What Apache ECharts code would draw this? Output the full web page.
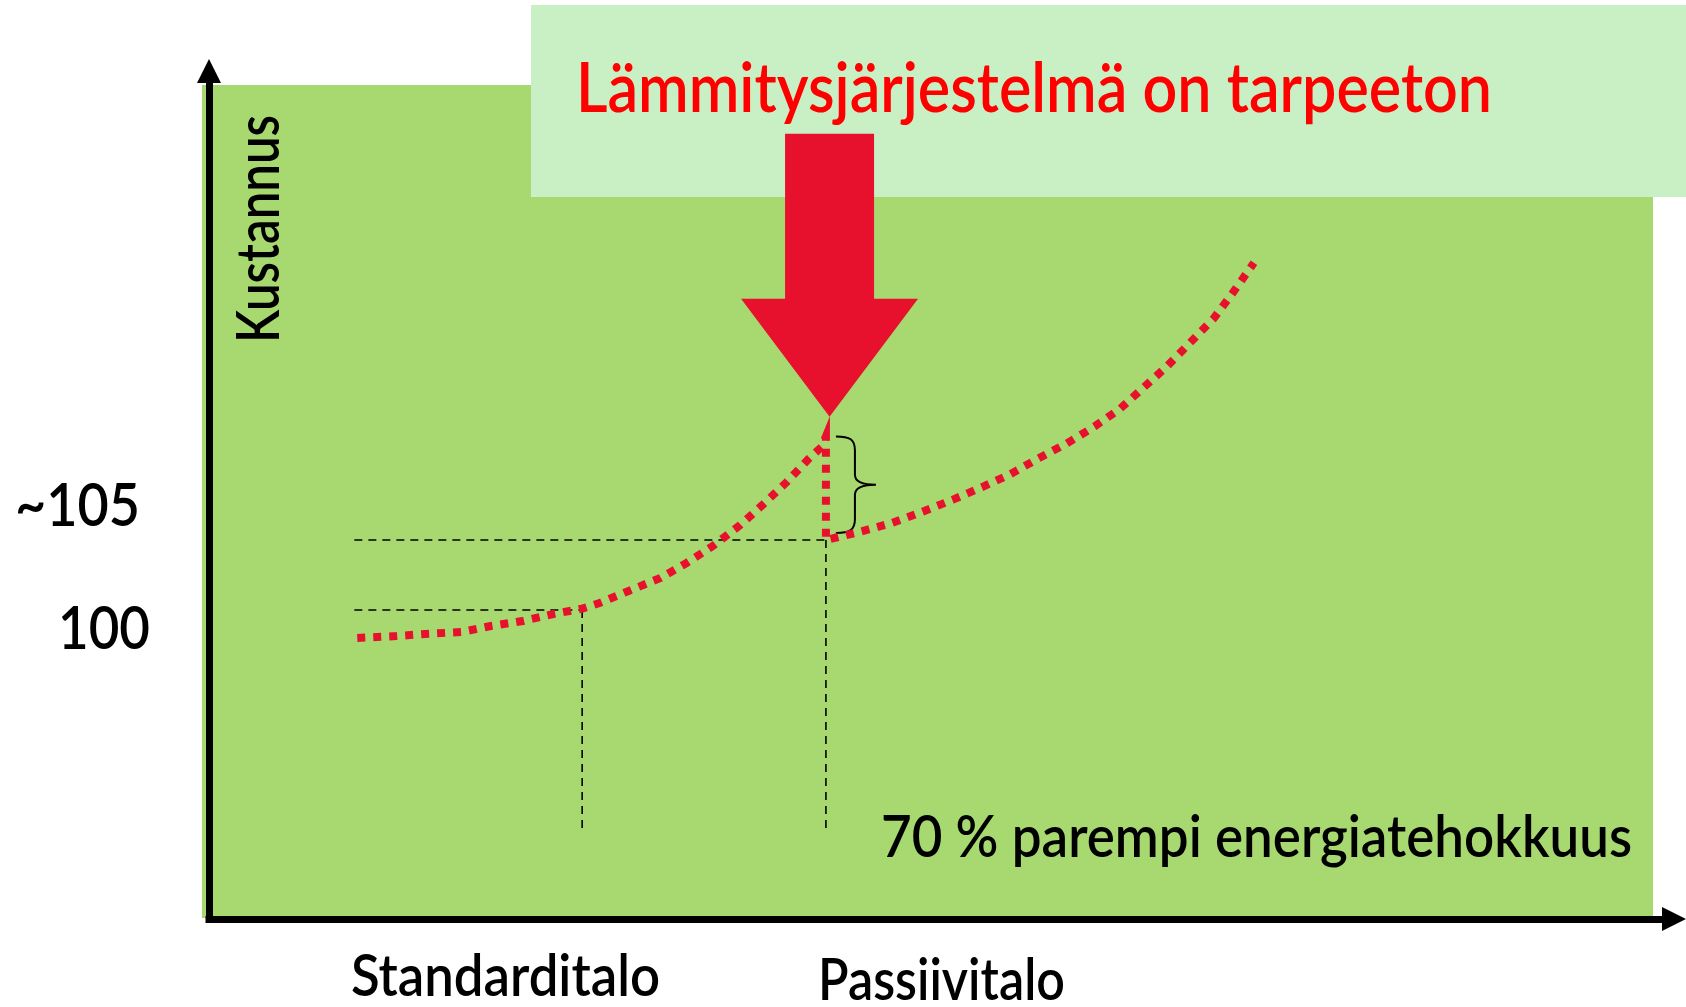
<!DOCTYPE html>
<html>
<head>
<meta charset="utf-8">
<script src="https://cdn.jsdelivr.net/npm/echarts@6/dist/echarts.min.js"></script>
<style>
html,body{margin:0;padding:0;background:#ffffff;}
#chart{width:1686px;height:1007px;}
</style>
</head>
<body>
<div id="chart"></div>
<script>
// ---- texts ----
const titleText = 'Lämmitysjärjestelmä on tarpeeton';
const yAxisName = 'Kustannus';
const costTickLabels = ['~105', '100'];
const houseLabels = ['Standarditalo', 'Passiivitalo'];
const efficiencyNote = '70 % parempi energiatehokkuus';

// ---- data: [position along efficiency axis (0-100), cost index] ----
const costCurveStandard = [
  [10.7, 98.0], [13.4, 98.14], [15.4, 98.29], [17.9, 98.43], [19.9, 98.86],
  [22.1, 99.21], [24.2, 99.71], [26.2, 100.1], [27.4, 100.5], [29.4, 101.36],
  [31.6, 102.29], [33.4, 103.36], [35.2, 104.57], [37.1, 106.07], [38.7, 107.57],
  [40.3, 109.14], [41.8, 110.79], [42.7, 111.64], [43.0, 112.4]
];
const costCurvePassive = [
  [43.0, 105.0], [45.4, 105.6], [47.5, 106.2], [49.6, 107.0], [51.8, 107.9],
  [53.8, 108.8], [55.7, 109.7], [57.6, 110.8], [59.6, 111.9], [61.5, 113.1],
  [63.3, 114.4], [64.9, 115.9], [66.5, 117.4], [68.1, 119.1], [69.7, 120.8],
  [71.0, 122.6], [72.5, 124.8]
];
const guideStandardH = [[10.5, 100], [26.2, 100]];
const guideStandardV = [[26.2, 100], [26.2, 84.4]];
const guidePassiveH = [[10.5, 105], [43.0, 105]];
const guidePassiveV = [[43.0, 105], [43.0, 84.4]];
const heatingSavingBrace = [[43.0, 112.4, 105.5]];   // x, top cost, bottom cost
const arrowTip = [[43.25, 113.8]];

// ---- helpers ----
const FONT = 'Lato';
const WEIGHT = 600;
const mctx = document.createElement('canvas').getContext('2d');
function fitScale(text, size, target) {
  mctx.font = WEIGHT + ' ' + size + 'px ' + FONT;
  return target / mctx.measureText(text).width;
}
function txt(text, x, y, size, target, color, rot) {
  return {
    type: 'text', x: x, y: y, z: 10,
    rotation: rot || 0,
    scaleX: fitScale(text, size, target),
    style: {
      text: text, fontSize: size, fontFamily: FONT, fontWeight: WEIGHT, fill: color || '#000',
      textAlign: 'left', textVerticalAlign: 'middle'
    }
  };
}

const chart = echarts.init(document.getElementById('chart'));

const guideStyle = { color: '#000', width: 1.6, type: [8, 6] };
function guide(data) {
  return {
    type: 'line', xAxisIndex: 0, yAxisIndex: 0, data: data, showSymbol: false,
    symbol: 'none', lineStyle: guideStyle, z: 3, silent: true
  };
}

const option = {
  animation: false,
  backgroundColor: '#ffffff',
  grid: [
    { left: 202, right: 33, top: 85, bottom: 89, show: true,
      backgroundColor: '#a8d970', borderWidth: 0 },
    { left: 209, right: 12, top: 71, bottom: 88, show: false }
  ],
  xAxis: [
    { gridIndex: 0, type: 'value', min: 0, max: 100, show: false },
    { gridIndex: 1, type: 'value', min: 0, max: 1,
      axisLine: { show: true, onZero: false, symbol: ['none', 'triangle'], symbolSize: [24, 24],
        lineStyle: { color: '#000', width: 7, cap: 'square' } },
      axisTick: { show: false }, axisLabel: { show: false }, splitLine: { show: false } }
  ],
  yAxis: [
    { gridIndex: 0, type: 'value', min: 78, max: 137.5, show: false },
    { gridIndex: 1, type: 'value', min: 0, max: 1,
      axisLine: { show: true, onZero: false, symbol: ['none', 'triangle'], symbolSize: [24, 24],
        lineStyle: { color: '#000', width: 7, cap: 'square' } },
      axisTick: { show: false }, axisLabel: { show: false }, splitLine: { show: false } }
  ],
  series: [
    guide(guideStandardH), guide(guideStandardV), guide(guidePassiveH), guide(guidePassiveV),
    {
      type: 'line', xAxisIndex: 0, yAxisIndex: 0,
      data: costCurveStandard.concat(costCurvePassive),
      showSymbol: false, symbol: 'none', z: 4, silent: true,
      lineStyle: { color: '#e8112d', width: 8, type: [8, 8], cap: 'butt', join: 'miter' }
    },
    {
      type: 'custom', xAxisIndex: 0, yAxisIndex: 0, data: heatingSavingBrace, z: 4, silent: true,
      renderItem: function (params, api) {
        const top = api.coord([api.value(0), api.value(1)]);
        const bot = api.coord([api.value(0), api.value(2)]);
        const x0 = top[0] + 10, xs = top[0] + 29, xt = top[0] + 50;
        const t = top[1], b = bot[1], m = (t + b) / 2;
        const d = 'M' + x0 + ' ' + t +
          ' C' + (x0 + 14) + ' ' + t + ' ' + xs + ' ' + (t + 3) + ' ' + xs + ' ' + (t + 14) +
          ' L' + xs + ' ' + (m - 10) +
          ' C' + xs + ' ' + (m - 3) + ' ' + (xs + 7) + ' ' + m + ' ' + xt + ' ' + m +
          ' C' + (xs + 7) + ' ' + m + ' ' + xs + ' ' + (m + 3) + ' ' + xs + ' ' + (m + 10) +
          ' L' + xs + ' ' + (b - 14) +
          ' C' + xs + ' ' + (b - 3) + ' ' + (x0 + 14) + ' ' + b + ' ' + x0 + ' ' + b;
        return { type: 'path', shape: { pathData: d },
          style: { fill: 'none', stroke: '#000', lineWidth: 2 } };
      }
    },
    {
      type: 'custom', xAxisIndex: 0, yAxisIndex: 0, data: arrowTip, z: 6, silent: true, clip: false,
      renderItem: function (params, api) {
        const p = api.coord([api.value(0), api.value(1)]);
        const shape = [[0, 0], [88.5, -118], [44.5, -118], [44.5, -283],
                       [-44.5, -283], [-44.5, -118], [-88.5, -118]];
        return { type: 'polygon',
          shape: { points: shape.map(function (q) { return [p[0] + q[0], p[1] + q[1]]; }) },
          style: { fill: '#e8112d' } };
      }
    }
  ],
  graphic: [
    { type: 'rect', z: 1, shape: { x: 531, y: 5, width: 1155, height: 192 },
      style: { fill: '#c9f0c4' } },
    txt(titleText, 576, 89, 70, 916, '#ff0000'),
    txt(yAxisName, 259.5, 343, 60, 228, '#000', Math.PI / 2),
    txt(costTickLabels[0], 15, 506.5, 60, 125),
    txt(costTickLabels[1], 58, 629.5, 60, 92),
    txt(houseLabels[0], 351, 977.5, 57, 309),
    txt(houseLabels[1], 818, 982, 57, 247),
    txt(efficiencyNote, 881, 838, 58, 751)
  ]
};
chart.setOption(option);
</script>
</body>
</html>
